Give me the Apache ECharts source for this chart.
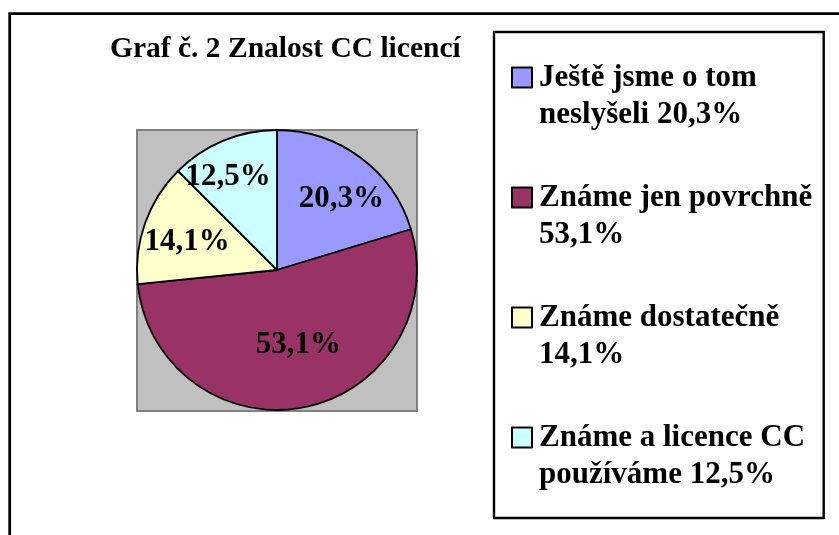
<!DOCTYPE html>
<html>
<head>
<meta charset="utf-8">
<script src="https://cdn.jsdelivr.net/npm/echarts@6/dist/echarts.min.js"></script>
<style>
html,body{margin:0;padding:0;background:#fff;}
#chart{width:839px;height:535px;}
</style>
</head>
<body>
<div id="chart"></div>
<script>
var titleText = 'Graf č. 2 Znalost CC licencí';
var categories = ['Ještě jsme o tom neslyšeli', 'Známe jen povrchně', 'Známe dostatečně', 'Známe a licence CC používáme'];
var values = [20.3, 53.1, 14.1, 12.5];
var colors = ['#9999FF', '#993366', '#FFFFCC', '#CCFFFF'];

function fmt(v) { return String(v.toFixed(1)).replace('.', ',') + '%'; }

var fontFam = '"Liberation Serif", "Times New Roman", serif';
var legendFontSize = 31;
var legendWrapWidth = 285;

var measureCtx = document.createElement('canvas').getContext('2d');
measureCtx.font = 'bold ' + legendFontSize + 'px ' + fontFam;
function wrapWords(text, maxW) {
  var words = text.split(' ');
  var lines = [];
  var cur = '';
  words.forEach(function (w) {
    var test = cur ? cur + ' ' + w : w;
    if (cur && measureCtx.measureText(test).width > maxW) {
      lines.push(cur);
      cur = w;
    } else {
      cur = test;
    }
  });
  if (cur) lines.push(cur);
  return lines;
}

var labelNudge = [[21, -12], [7, 3], [-21, -4], [-21, -26]];

var chart = echarts.init(document.getElementById('chart'), null, {renderer: 'canvas'});

chart.setOption({
  animation: false,
  backgroundColor: '#ffffff',
  title: {
    text: titleText,
    left: 110,
    top: 34,
    padding: 0,
    textStyle: {fontFamily: fontFam, fontWeight: 'bold', fontSize: 29.5, color: '#000'}
  },
  graphic: [
    {type: 'rect', z: -10, shape: {x: 9.7, y: 13.7, width: 900, height: 600},
     style: {fill: '#fff', stroke: '#000', lineWidth: 2.8}},
    {type: 'rect', z: -5, shape: {x: 137, y: 130, width: 280, height: 281},
     style: {fill: '#C0C0C0', stroke: '#808080', lineWidth: 2}},
    {type: 'rect', z: -5, shape: {x: 494, y: 32, width: 329.7, height: 486},
     style: {fill: '#fff', stroke: '#000', lineWidth: 2.4}}
  ],
  legend: {
    orient: 'vertical',
    left: 511,
    top: 22,
    padding: 0,
    itemGap: 9,
    itemWidth: 20,
    itemHeight: 20,
    icon: 'rect',
    itemStyle: {borderColor: '#000', borderWidth: 2},
    data: categories,
    formatter: function (name) {
      var i = categories.indexOf(name);
      var lines = wrapWords(name + ' ' + fmt(values[i]), legendWrapWidth);
      return '\n' + lines.join('\n');
    },
    textStyle: {
      fontFamily: fontFam, fontWeight: 'bold', fontSize: legendFontSize, color: '#000',
      lineHeight: 37, padding: [0, 0, 0, 2]
    }
  },
  series: [{
    type: 'pie',
    center: [277, 270],
    radius: [0, 140],
    startAngle: 90,
    clockwise: true,
    silent: true,
    data: categories.map(function (c, i) {
      return {name: c, value: values[i], itemStyle: {color: colors[i]}};
    }),
    itemStyle: {borderColor: '#000', borderWidth: 1.8},
    label: {
      show: true,
      position: 'inside',
      formatter: function (p) { return fmt(p.value); },
      fontFamily: fontFam, fontWeight: 'bold', fontSize: 31, color: '#000'
    },
    labelLine: {show: false},
    labelLayout: function (params) {
      var n = labelNudge[params.dataIndex];
      return {dx: n[0], dy: n[1]};
    }
  }]
});
</script>
</body>
</html>
